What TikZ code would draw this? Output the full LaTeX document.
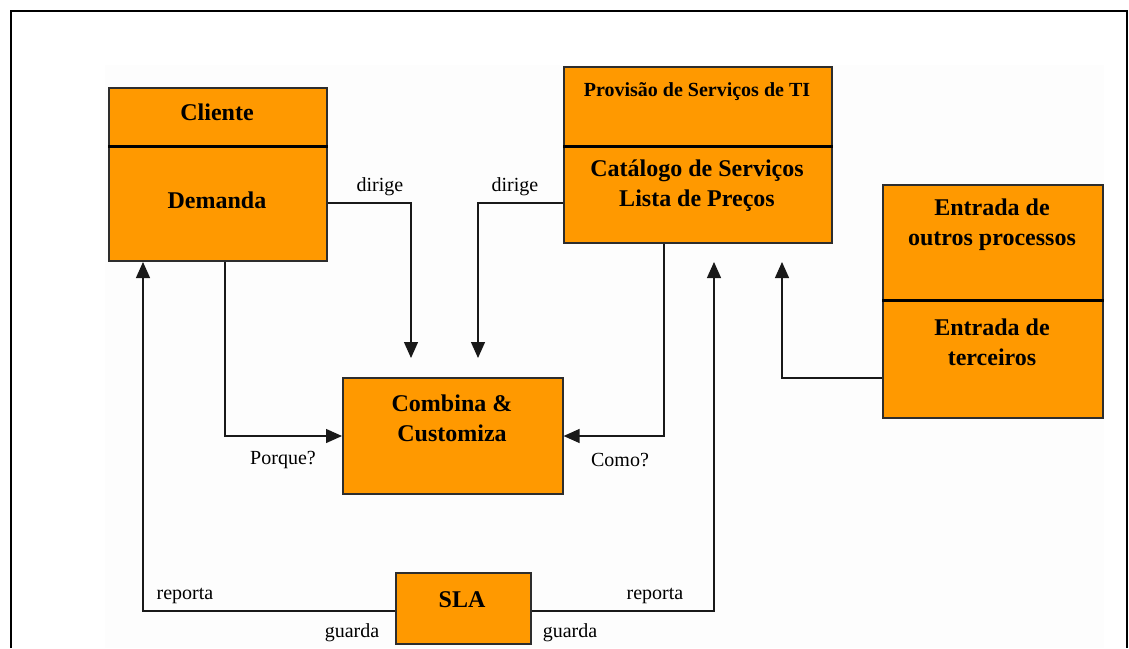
\documentclass[tikz,border=0pt]{standalone}
\usepackage{fontspec}
\setmainfont{Liberation Serif}
\usetikzlibrary{arrows.meta}
\definecolor{boxorange}{RGB}{255,153,0}
\definecolor{boxedge}{RGB}{45,45,45}
\definecolor{paper}{RGB}{253,253,253}
\tikzset{
  box/.style={draw=boxedge, line width=1.6pt, fill=boxorange, rectangle, inner sep=0pt, anchor=north west},
  divider/.style={line width=2.6pt, black},
  title/.style={font=\fontsize{24}{30}\selectfont\bfseries, align=center, inner sep=0pt},
  smalltitle/.style={font=\fontsize{20}{24}\selectfont\bfseries, align=center, inner sep=0pt},
  lbl/.style={font=\fontsize{20}{24}\selectfont, inner sep=0pt},
  conn/.style={draw=black!90, line width=1.3pt},
  arr/.style={conn, -{Triangle[length=16pt,width=14pt]}},
}
\begin{document}
\begin{tikzpicture}[x=1pt, y=-1pt]
\useasboundingbox (0,0) rectangle (1129,648);
% page frame and drawing area
\fill[white] (0,0) rectangle (1129,648);
\fill[paper] (105,65) rectangle (1104,648);
\draw[line width=2.5pt, black] (11,648) -- (11,11) -- (1127,11) -- (1127,648);

% Cliente / Demanda
\node[box, minimum width=218pt, minimum height=58pt] (cli) at (108,87) {};
\node[box, minimum width=218pt, minimum height=115pt] (dem) at (108,145) {};
\draw[divider] (cli.south west) -- (cli.south east);
\node[title] (tcli) at (217,112) {Cliente};
\node[title] (tdem) at (217,200) {Demanda};

% Provisao de Servicos de TI / Catalogo
\node[box, minimum width=268pt, minimum height=79pt] (prov) at (563,66) {};
\node[box, minimum width=268pt, minimum height=97pt] (cat) at (563,145) {};
\draw[divider] (prov.south west) -- (prov.south east);
\node[smalltitle] (tprov) at (697,92) {Provisão de Serviços de TI};
\node[title] (tcat) at (697,186) {Catálogo de Serviços\\Lista de Preços};

% Entradas
\node[box, minimum width=220pt, minimum height=115pt] (outros) at (882,184) {};
\node[box, minimum width=220pt, minimum height=118pt] (terc) at (882,299) {};
\draw[divider] (outros.south west) -- (outros.south east);
\node[title] (toutros) at (992,225) {Entrada de\\outros processos};
\node[title] (tterc) at (992,342) {Entrada de\\terceiros};

% Combina & Customiza
\node[box, minimum width=220pt, minimum height=116pt] (comb) at (342,377) {};
\node[title] (tcomb) at (452,418) {Combina \&\\Customiza};

% SLA
\node[box, minimum width=135pt, minimum height=71pt] (sla) at (395,572) {};
\node[title] (tsla) at (462,600) {SLA};

% free ends of the arrows
\coordinate (inA) at (411,358);
\coordinate (inB) at (478,358);
\coordinate (upCli) at (143,262);
\coordinate (upCat1) at (714,262);
\coordinate (upCat2) at (782,262);

% connectors
\draw[arr] (dem.east |- 0,203) -| (inA);
\draw[arr] (cat.west |- 0,203) -| (inB);
\draw[arr] (dem.south -| 225,0) |- (comb.west |- 0,436);
\draw[arr] (cat.south -| 664,0) |- (comb.east |- 0,436);
\draw[arr] (sla.west |- 0,611) -| (upCli);
\draw[arr] (sla.east |- 0,611) -| (upCat1);
\draw[arr] (terc.west |- 0,378) -| (upCat2);

% connector labels
\node[lbl] (l1) at (380,187) {dirige};
\node[lbl] (l2) at (515,187) {dirige};
\node[lbl] (l3) at (283,460) {Porque?};
\node[lbl] (l4) at (620,460) {Como?};
\node[lbl] (l5) at (185,596) {reporta};
\node[lbl] (l6) at (655,596) {reporta};
\node[lbl] (l7) at (352,633) {guarda};
\node[lbl] (l8) at (570,633) {guarda};
\end{tikzpicture}
\end{document}
